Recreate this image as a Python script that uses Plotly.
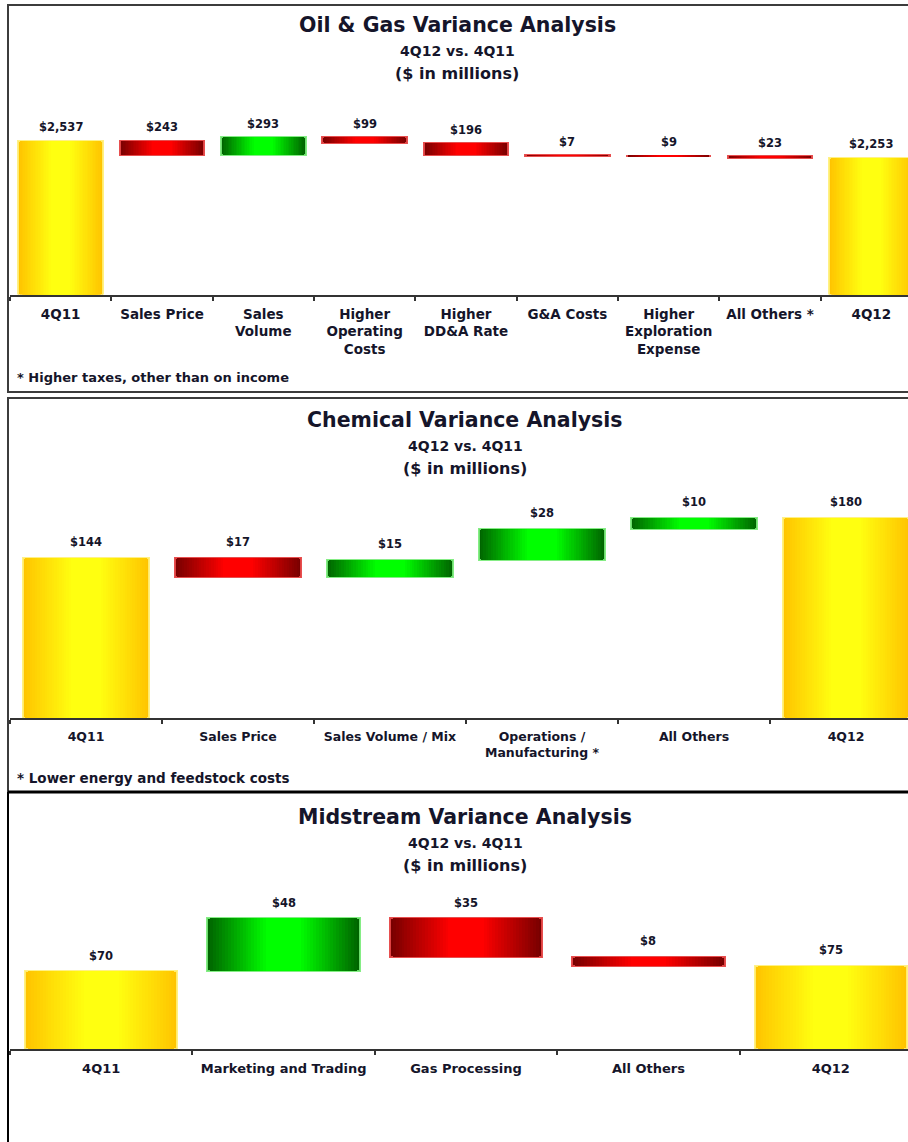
import plotly.graph_objects as go

# ---------------- data ----------------
og_categories = ["4Q11", "Sales Price", "Sales<br>Volume", "Higher<br>Operating<br>Costs",
                 "Higher<br>DD&A Rate", "G&A Costs", "Higher<br>Exploration<br>Expense",
                 "All Others *", "4Q12"]
og_values = [2537, -243, 293, -99, -196, -7, -9, -23, 2253]

chem_categories = ["4Q11", "Sales Price", "Sales Volume / Mix", "Operations /<br>Manufacturing *",
                   "All Others", "4Q12"]
chem_values = [144, -17, 15, 28, 10, 180]

mid_categories = ["4Q11", "Marketing and Trading", "Gas Processing", "All Others", "4Q12"]
mid_values = [70, 48, -35, -8, 75]

titles = ["Oil & Gas Variance Analysis", "Chemical Variance Analysis", "Midstream Variance Analysis"]
subtitle = "4Q12 vs. 4Q11"
units = "($ in millions)"
footnotes = ["* Higher taxes, other than on income", "* Lower energy and feedstock costs", None]

# ---------------- styling ----------------
W, H = 908, 1142
FONT = "DejaVu Sans"
TXT = "#15152a"

EDGE = {"total": (255, 196, 0), "up": (0, 100, 0), "down": (120, 0, 0)}
CENTER = {"total": (255, 255, 16), "up": (0, 255, 0), "down": (255, 0, 0)}
GLOW = {"total": "rgba(255,240,120,0.9)", "up": "rgba(120,235,120,0.9)", "down": "rgba(230,70,70,0.95)"}
N_LAYERS = 26


def px_x(x):
    return x / W


def px_y(y):
    return 1 - y / H


# pixel geometry of each panel: plot bottom (axis line), plot top, pixels per $ million
panels = [
    dict(cats=og_categories, vals=og_values, bottom=294.5, top=100, ppu=0.0607,
         x_center=457, title_y=25, lab_off=13.5, tick_size=13.5, val_size=11.5,
         foot_y=378, foot_size=13, border=(5, 392)),
    dict(cats=chem_categories, vals=chem_values, bottom=718, top=480, ppu=1.111,
         x_center=465, title_y=420, lab_off=16, tick_size=12.5, val_size=11.5,
         foot_y=778, foot_size=13.5, border=(398, 792)),
    dict(cats=mid_categories, vals=mid_values, bottom=1049, top=880, ppu=1.11,
         x_center=465, title_y=817, lab_off=15.5, tick_size=13, val_size=11.5,
         foot_y=None, foot_size=13, border=None),
]

X_LEFT = 10      # left edge of first category
PLOT_SPAN = 912  # full width of category band (runs past the page edge)


def lerp(a, b, t):
    return "rgb(%d,%d,%d)" % tuple(round(a[i] + (b[i] - a[i]) * t) for i in range(3))


def waterfall_geometry(vals):
    bases, heights, kinds, tops = [], [], [], []
    level = 0
    last = len(vals) - 1
    for i, v in enumerate(vals):
        if i == 0 or i == last:
            bases.append(0)
            heights.append(v)
            kinds.append("total")
            tops.append(v)
            level = v
        else:
            bases.append(level)
            heights.append(v)
            kinds.append("up" if v > 0 else "down")
            tops.append(max(level, level + v))
            level += v
    return bases, heights, kinds, tops


fig = go.Figure()
annotations = []
shapes = []

for p_idx, p in enumerate(panels, start=1):
    xa = "x" if p_idx == 1 else "x%d" % p_idx
    ya = "y" if p_idx == 1 else "y%d" % p_idx
    n = len(p["cats"])
    cat_w = PLOT_SPAN / n
    bar_w = 0.835
    bases, heights, kinds, tops = waterfall_geometry(p["vals"])

    # stacked overlay layers give each bar a horizontal edge-to-centre gradient
    for k in range(N_LAYERS):
        t = k / (N_LAYERS - 1)
        width = bar_w * (1 - k / N_LAYERS)
        colors = [lerp(EDGE[kd], CENTER[kd], min(1.0, t * 1.25)) for kd in kinds]
        line = dict(width=2, color=[GLOW[kd] for kd in kinds]) if k == 0 else dict(width=0)
        fig.add_trace(go.Bar(
            x=p["cats"], y=heights, base=bases, width=width,
            marker=dict(color=colors, line=line),
            xaxis=xa, yaxis=ya, showlegend=False, hoverinfo="skip",
        ))

    # value labels above each bar
    for c, v, top in zip(p["cats"], p["vals"], tops):
        annotations.append(dict(
            x=c, y=top, xref=xa, yref=ya, text="$%s" % format(abs(v), ","),
            showarrow=False, yanchor="middle", yshift=p["lab_off"],
            font=dict(family=FONT, size=p["val_size"], color=TXT, weight="bold"),
        ))

    # titles
    for txt, dy, size in ((titles[p_idx - 1], 0, 20.5), (subtitle, 25.5, 14), (units, 48.5, 16)):
        annotations.append(dict(
            x=px_x(p["x_center"]), y=px_y(p["title_y"] + dy), xref="paper", yref="paper",
            text=txt, showarrow=False, xanchor="center", yanchor="middle",
            font=dict(family=FONT, size=size, color=TXT, weight="bold"),
        ))

    if footnotes[p_idx - 1]:
        annotations.append(dict(
            x=px_x(15), y=px_y(p["foot_y"]), xref="paper", yref="paper",
            text=footnotes[p_idx - 1], showarrow=False, xanchor="left", yanchor="middle",
            font=dict(family=FONT, size=p["foot_size"], color=TXT, weight="bold"),
        ))

    x_end = -0.5 + (W - X_LEFT) / cat_w
    y_max = (p["bottom"] - p["top"]) / p["ppu"]
    fig.layout[xa.replace("x", "xaxis")] = dict(
        domain=[px_x(X_LEFT), 1], anchor=ya, type="category", range=[-0.5, x_end],
        tickson="boundaries", ticks="outside", ticklen=4, tickwidth=1.5, tickcolor="#333333",
        showline=True, linecolor="#333333", linewidth=2, showgrid=False, zeroline=False,
        tickfont=dict(family=FONT, size=p["tick_size"], color=TXT, weight="bold"),
        ticklabelstandoff=6, fixedrange=True,
    )
    fig.layout[ya.replace("y", "yaxis")] = dict(
        domain=[px_y(p["bottom"]), px_y(p["top"])], anchor=xa, range=[0, y_max],
        showgrid=False, zeroline=False, showticklabels=False, showline=False, fixedrange=True,
    )

    if p["border"]:
        y0, y1 = p["border"]
        shapes.append(dict(type="rect", xref="paper", yref="paper",
                           x0=px_x(8), x1=px_x(930), y0=px_y(y1), y1=px_y(y0),
                           line=dict(color="#3c3c3c", width=2), layer="above"))

# heavy rule between the chemical and midstream panels, and the midstream frame edge
shapes.append(dict(type="line", xref="paper", yref="paper", x0=px_x(8), x1=1,
                   y0=px_y(792), y1=px_y(792), line=dict(color="#000000", width=3)))
shapes.append(dict(type="line", xref="paper", yref="paper", x0=px_x(8), x1=px_x(8),
                   y0=px_y(792), y1=0, line=dict(color="#000000", width=2)))

fig.update_layout(
    width=W, height=H, margin=dict(l=0, r=0, t=0, b=0),
    paper_bgcolor="white", plot_bgcolor="white", barmode="overlay", bargap=0,
    annotations=annotations, shapes=shapes, showlegend=False,
)

fig.write_html("out.html")
